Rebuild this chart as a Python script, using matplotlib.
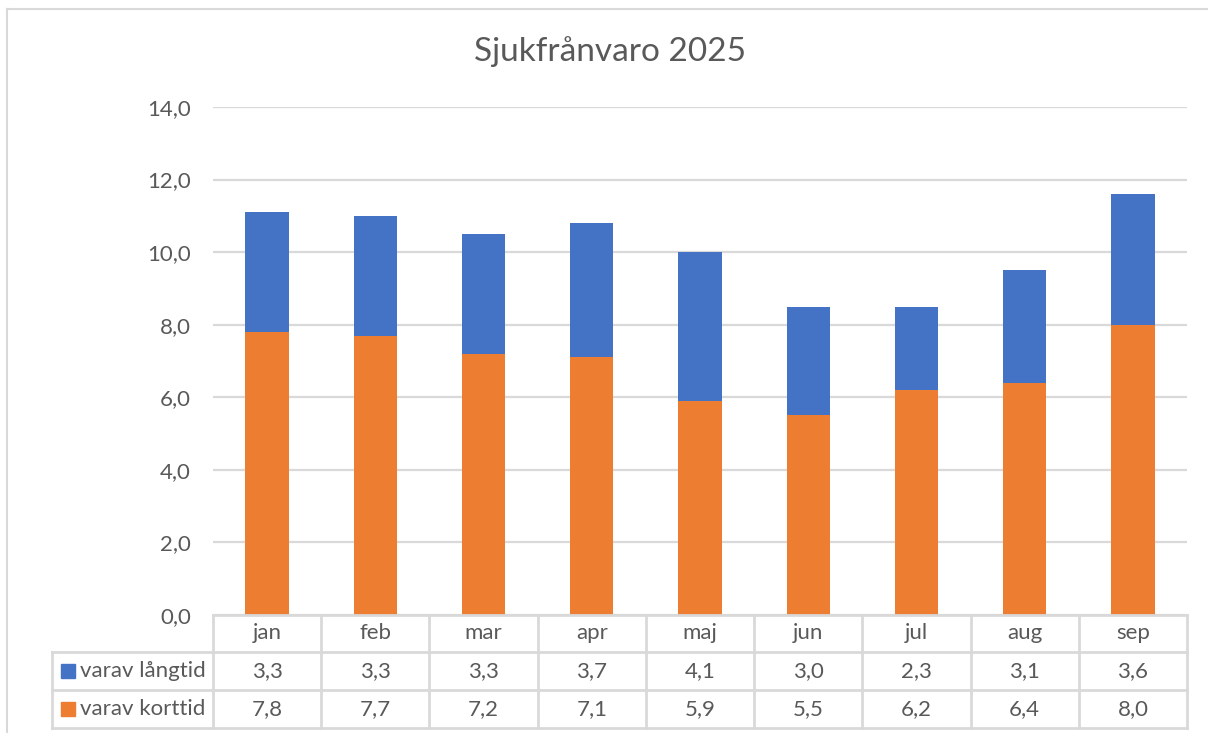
import numpy as np
import matplotlib
matplotlib.use("Agg")
import matplotlib.pyplot as plt
from matplotlib.lines import Line2D
from matplotlib.patches import Rectangle
import matplotlib.transforms as mtransforms

plt.rcParams['font.family'] = ['Lato', 'DejaVu Sans']

# data
months = ['jan', 'feb', 'mar', 'apr', 'maj', 'jun', 'jul', 'aug', 'sep']
langtid = [3.3, 3.3, 3.3, 3.7, 4.1, 3.0, 2.3, 3.1, 3.6]
korttid = [7.8, 7.7, 7.2, 7.1, 5.9, 5.5, 6.2, 6.4, 8.0]
series_names = ['varav långtid', 'varav korttid']
title = 'Sjukfrånvaro 2025'

BLUE = '#4472c4'
ORANGE = '#ed7d31'
GRID = '#d9d9d9'
TXT = '#595959'
FS = 16

W, H = 1208, 733
fig = plt.figure(figsize=(W / 100, H / 100), dpi=100)

# plot area in pixels
x0, x1 = 213, 1187
ytop, ybot = 107, 615
ax = fig.add_axes([x0 / W, 1 - ybot / H, (x1 - x0) / W, (ybot - ytop) / H])

x = np.arange(len(months))
ax.bar(x, korttid, width=0.4, color=ORANGE, zorder=3)
ax.bar(x, langtid, width=0.4, bottom=korttid, color=BLUE, zorder=3)

ax.set_xlim(-0.5, len(months) - 0.5)
ax.set_ylim(0, 14)
ax.set_yticks(np.arange(0, 14.1, 2))
ax.set_yticklabels([f'{v:.1f}'.replace('.', ',') for v in np.arange(0, 14.1, 2)],
                   fontsize=FS, color=TXT)
ax.tick_params(axis='y', length=0, pad=16)
ax.set_xticks([])
for s in ax.spines.values():
    s.set_visible(False)
ax.yaxis.grid(True, color=GRID, linewidth=1.6, zorder=0)

fig.text(610 / W, 1 - 52 / H, title, ha='center', va='center', fontsize=24, color=TXT)

# data table below the plot, rows in pixels
rows_y = [615, 652, 690, 728]
trans = mtransforms.blended_transform_factory(ax.transData, fig.transFigure)
def fy(py):
    return 1 - py / H

lw = 2.0
# horizontal lines across month columns
for py in rows_y:
    fig.add_artist(Line2D([x0 / W, x1 / W], [fy(py)] * 2, color=GRID, lw=lw))
# horizontal lines across legend column
for py in rows_y[1:]:
    fig.add_artist(Line2D([52 / W, x0 / W], [fy(py)] * 2, color=GRID, lw=lw))
# vertical lines between months
for b in np.arange(-0.5, len(months), 1.0):
    ax.add_line(Line2D([b, b], [fy(615), fy(728)], transform=trans, color=GRID,
                       lw=lw, clip_on=False))
fig.add_artist(Line2D([52 / W] * 2, [fy(652), fy(728)], color=GRID, lw=lw))

# header + values
for i, m in enumerate(months):
    ax.text(i, fy(633), m, transform=trans, ha='center', va='center', fontsize=FS, color=TXT)
    ax.text(i, fy(671), f'{langtid[i]:.1f}'.replace('.', ','), transform=trans,
            ha='center', va='center', fontsize=FS, color=TXT)
    ax.text(i, fy(709), f'{korttid[i]:.1f}'.replace('.', ','), transform=trans,
            ha='center', va='center', fontsize=FS, color=TXT)

# legend keys in table
for name, col, cy in zip(series_names, [BLUE, ORANGE], [671, 709]):
    fig.add_artist(Rectangle((61 / W, fy(cy + 7)), 14 / W, 14 / H, color=col,
                             transform=fig.transFigure))
    fig.text(80 / W, fy(cy), name, ha='left', va='center', fontsize=FS, color=TXT)

# chart border
fig.add_artist(Line2D([7 / W, 7 / W], [0, fy(9)], color=GRID, lw=1.5))
fig.add_artist(Line2D([7 / W, 1], [fy(9), fy(9)], color=GRID, lw=1.5))

fig.savefig('out.png', dpi=100, facecolor='white')
